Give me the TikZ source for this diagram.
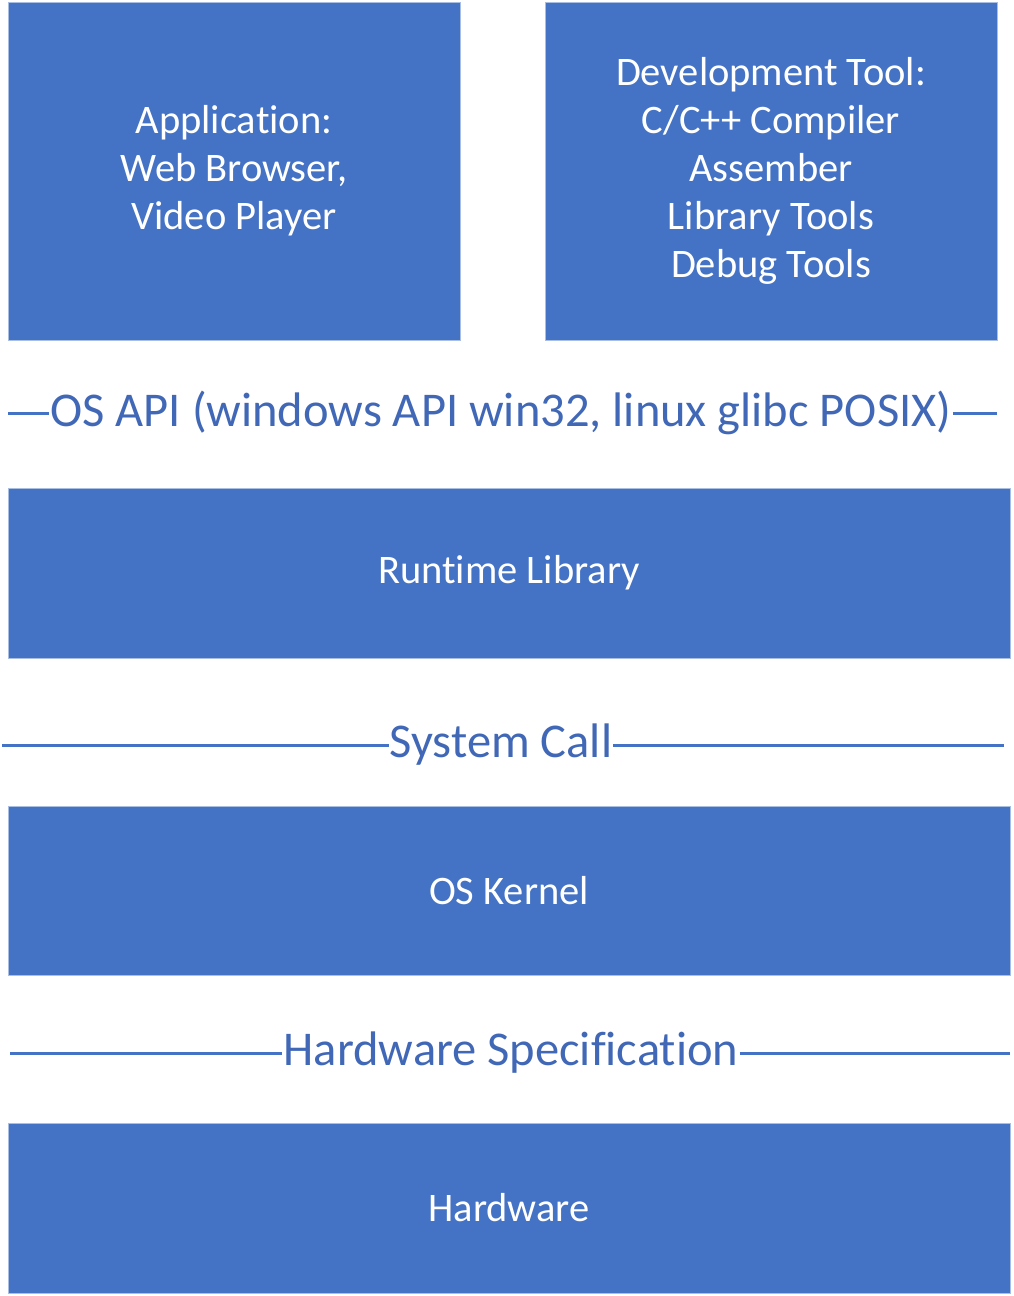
\documentclass[tikz,border=0pt]{standalone}
\usepackage{fontspec}
\setmainfont[Ligatures=CommonOff]{Carlito}
\definecolor{boxblue}{HTML}{4472C4}
\definecolor{boxedge}{HTML}{A9BEE3}
\definecolor{labblue}{HTML}{4168B6}
\tikzset{
  layer/.style={draw=boxedge, line width=1pt, fill=boxblue, text=white, align=center,
    inner sep=0pt, font=\fontsize{40.5}{48}\selectfont},
  sep/.style={draw=boxblue, line width=3pt},
  seplabel/.style={text=labblue, inner xsep=1pt, inner ysep=0pt, font=\fontsize{48.5}{58}\selectfont}
}
\begin{document}
\begin{tikzpicture}[x=1pt,y=-1pt]
\useasboundingbox (0,0) rectangle (1013,1296);
% top boxes
\node[layer, minimum width=452pt, minimum height=338pt] (app) at (234,171)
  {\raisebox{-2pt}{}Application:\\Web Browser,\\Video Player};
\node[layer, minimum width=452pt, minimum height=338pt] (dev) at (771,171)
  {Development Tool:\\C/C++ Compiler\\Assember\\Library Tools\\Debug Tools};
% OS API
\node[seplabel] (api) at (501,413) {OS API (windows API win32, linux glibc POSIX)};
\coordinate (apiL) at (8,413);
\coordinate (apiR) at (997,413);
\draw[sep] (apiL) -- (api.west);
\draw[sep] (api.east) -- (apiR);
% runtime
\node[layer, minimum width=1002pt, minimum height=170pt] (rt) at (509,573) {Runtime Library};
% system call
\node[seplabel] (sc) at (501,745) {System Call};
\coordinate (scL) at (2,745);
\coordinate (scR) at (1004,745);
\draw[sep] (scL) -- (sc.west);
\draw[sep] (sc.east) -- (scR);
% kernel
\node[layer, minimum width=1002pt, minimum height=169pt] (kern) at (509,890.5) {OS Kernel};
% hardware spec
\node[seplabel] (hs) at (511,1053) {Hardware Specification};
\coordinate (hsL) at (10,1053);
\coordinate (hsR) at (1010,1053);
\draw[sep] (hsL) -- (hs.west);
\draw[sep] (hs.east) -- (hsR);
% hardware
\node[layer, minimum width=1002pt, minimum height=170pt] (hw) at (509,1208) {Hardware};
\end{tikzpicture}
\end{document}
